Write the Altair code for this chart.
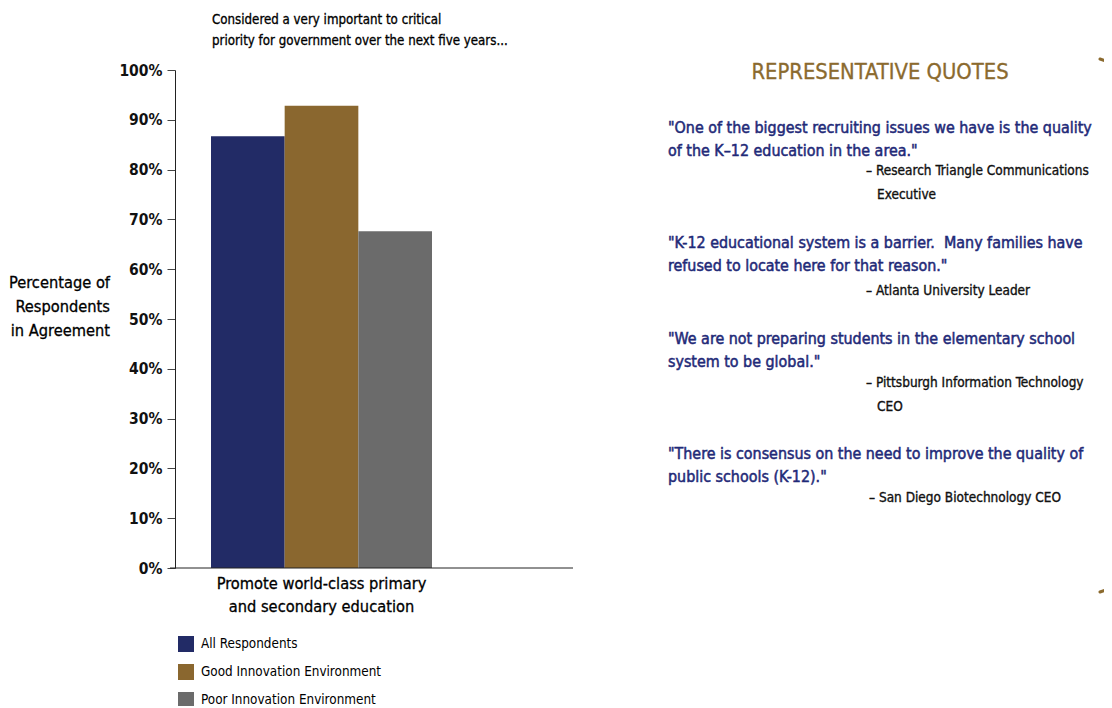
import altair as alt
import pandas as pd

# ---------------- data ----------------
groups = ["All Respondents", "Good Innovation Environment", "Poor Innovation Environment"]
values = [0.867, 0.928, 0.676]
colors = ["#222b66", "#8a672f", "#6b6b6b"]
y_ticks = [0.0, 0.1, 0.2, 0.3, 0.4, 0.5, 0.6, 0.7, 0.8, 0.9, 1.0]

subtitle_lines = ["Considered a very important to critical",
                  "priority for government over the next five years..."]
y_title_lines = ["Percentage of", "Respondents", "in Agreement"]
category_lines = ["Promote world-class primary", "and secondary education"]

quotes_title = "REPRESENTATIVE QUOTES"
quote1 = ["\"One of the biggest recruiting issues we have is the quality",
          "of the K\u201312 education in the area.\""]
attr1 = ["\u2013 Research Triangle Communications", "Executive"]
quote2 = ["\"K-12 educational system is a barrier.\u00a0 Many families have",
          "refused to locate here for that reason.\""]
attr2 = ["\u2013 Atlanta University Leader"]
quote3 = ["\"We are not preparing students in the elementary school",
          "system to be global.\""]
attr3 = ["\u2013 Pittsburgh Information Technology", "CEO"]
quote4 = ["\"There is consensus on the need to improve the quality of",
          "public schools (K-12).\""]
attr4 = ["\u2013 San Diego Biotechnology CEO"]

df = pd.DataFrame({"group": groups, "value": values})

FONT = "'DejaVu Sans Condensed', 'Liberation Sans Narrow', sans-serif"
NAVY = "#1f2a78"
GOLD = "#8b6a2e"
one = alt.Data(values=[{"k": 1}])

bars = alt.Chart(df).mark_bar().encode(
    x=alt.X("group:N",
            scale=alt.Scale(domain=groups, paddingInner=0, paddingOuter=0, range=[36, 257]),
            axis=None),
    y=alt.Y("value:Q",
            scale=alt.Scale(domain=[0, 1], nice=False),
            axis=alt.Axis(values=y_ticks, format=".0%", tickSize=8, tickColor="#444",
                          domainColor="#222", labelFont=FONT, labelFontSize=15.5,
                          labelFontWeight="bold", labelColor="#111", labelPadding=5,
                          title=None)),
    color=alt.Color("group:N",
                    scale=alt.Scale(domain=groups, range=colors),
                    legend=alt.Legend(orient="none", legendX=3, legendY=566, title=None,
                                      symbolType="square", symbolSize=256,
                                      symbolStrokeWidth=0, symbolOpacity=1,
                                      labelFont=FONT, labelFontSize=13.4, labelLimit=400,
                                      labelColor="#000", rowPadding=12, labelOffset=7)),
)

baseline = alt.Chart(one).mark_rule(color="#222", strokeWidth=1).encode(
    x=alt.value(-5), x2=alt.value(398), y=alt.value(498))

def txt(lines, x, y, size, color, align="left", lh=23, sw=0.35):
    return alt.Chart(one).mark_text(
        text=lines, align=align, baseline="middle", font=FONT, fontSize=size,
        color=color, lineHeight=lh, stroke=color, strokeWidth=sw
    ).encode(x=alt.value(x), y=alt.value(y))

subtitle = txt(subtitle_lines, 37, -50, 13.2, "#000", lh=21, sw=0.3)
ytitle = txt(y_title_lines, -65, 213, 16.3, "#000", align="right", lh=24, sw=0.3)

cat_label = alt.Chart(one).mark_text(
    text=category_lines, align="center", baseline="middle", font=FONT, fontSize=16.3,
    color="#000", lineHeight=23, stroke="#000", strokeWidth=0.3
).encode(x=alt.datum("Good Innovation Environment"), y=alt.value(514))

QS = 15.9
AS = 13.5
qt = txt([quotes_title], 705, 2, 21.8, GOLD, align="center", sw=0.3)
q1 = txt(quote1, 493, 58, QS, NAVY, sw=0.5)
a1 = txt([attr1[0]], 691, 101, AS, "#111")
a1b = txt([attr1[1]], 702, 125, AS, "#111")
q2 = txt(quote2, 493, 173, QS, NAVY, sw=0.5)
a2 = txt([attr2[0]], 691, 221, AS, "#111")
q3 = txt(quote3, 493, 269, QS, NAVY, sw=0.5)
a3 = txt([attr3[0]], 691, 313, AS, "#111")
a3b = txt([attr3[1]], 702, 337, AS, "#111")
q4 = txt(quote4, 493, 384, QS, NAVY, sw=0.5)
a4 = txt([attr4[0]], 694, 428, AS, "#111")

br1 = alt.Chart(one).mark_rule(color=GOLD, strokeWidth=3, strokeCap="round").encode(
    x=alt.value(925), x2=alt.value(934), y=alt.value(-11), y2=alt.value(-8))
br2 = alt.Chart(one).mark_rule(color=GOLD, strokeWidth=3, strokeCap="round").encode(
    x=alt.value(925), x2=alt.value(934), y=alt.value(522), y2=alt.value(519))

chart = alt.layer(
    bars, baseline, subtitle, ytitle, cat_label, qt, q1, a1, a1b, q2, a2, q3, a3, a3b,
    q4, a4, br1, br2
).properties(
    width=398, height=498,
    autosize=alt.AutoSizeParams(type="none"),
    padding={"left": 167, "top": 62, "right": 531, "bottom": 138},
).configure_view(stroke=None).configure_axis(grid=False)

chart.save("out.html", embed_options={"renderer": "svg", "actions": False})
